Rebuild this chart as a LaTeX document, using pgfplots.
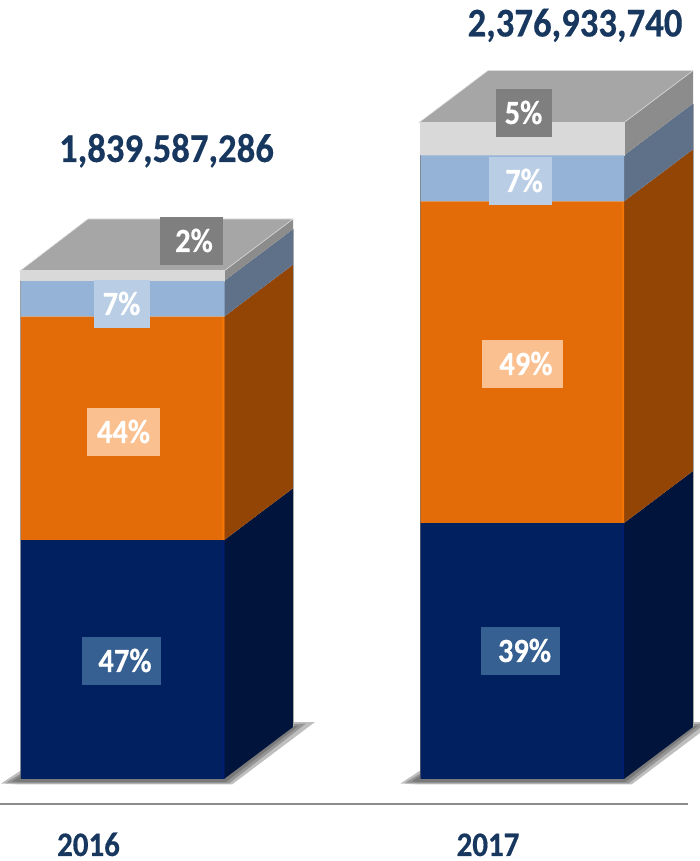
\documentclass[border=0pt]{standalone}
\usepackage{pgfplots}
\usepackage{pgfplotstable}
\usepackage{fontspec}
\pgfplotsset{compat=1.18}
\setmainfont{Carlito}[BoldFeatures={FakeStretch=0.9,FakeBold=0.35}]

\definecolor{navyF}{HTML}{002060}
\definecolor{navyS}{HTML}{00143C}
\definecolor{orangeF}{HTML}{E36C09}
\definecolor{orangeS}{HTML}{934505}
\definecolor{blueF}{HTML}{95B3D7}
\definecolor{blueS}{HTML}{5F7189}
\definecolor{greyF}{HTML}{D9D9D9}
\definecolor{greyS}{HTML}{8C8C8C}
\definecolor{greyT}{HTML}{A6A6A6}
\definecolor{navyL}{HTML}{376092}
\definecolor{orangeL}{HTML}{FBC08F}
\definecolor{blueL}{HTML}{B9CDE5}
\definecolor{greyL}{HTML}{7F7F7F}
\definecolor{titleC}{HTML}{17375E}

% Amounts per year, in millions, split by the printed shares
\pgfplotstableread{
x     navy   orange  blue  grey
122.5 864.6  809.4   128.8 36.8
522.0 927.0  1164.7  166.4 118.8
}\amounts

\pgfplotsset{
  sheet/.style={
    scale only axis, width=700bp, height=861bp,
    xmin=0, xmax=700, ymin=-296.95, ymax=2820.99,
    hide axis, at={(0,0)}, anchor=south west,
  },
  face/.style={draw=none, fill=#1, forget plot},
  haze/.style={draw=none, fill=black!70, fill opacity=0.36, forget plot},
}

% Position given as x and distance from the top of the sheet
\newcommand{\at}[2]{(axis cs:#1,{(779-#2)*3.6213})}
\newcommand{\tag}[9]{%
  \fill[#1] \at{#2}{#3} rectangle \at{#4}{#5};
  \node[anchor=base, text=white, font=\fontsize{34}{34}\selectfont\bfseries, inner sep=0pt] at \at{#6}{#7} {#8#9};
}

\begin{document}
\begin{tikzpicture}
\useasboundingbox (0,0) rectangle (700bp,861bp);

% Ground shadows, side faces and lids
\begin{axis}[sheet]
  \addplot[haze] coordinates {(1,-16.3)(20,29.0)(224,29.0)(293,206.4)(315,206.4)(232,-19.9)(20,-19.9)} -- cycle;
  \addplot[haze] coordinates {(6,-12.7)(20,18.1)(224,18.1)(293,199.2)(306,201.0)(229,-16.3)(20,-16.3)} -- cycle;
  \addplot[haze] coordinates {(12,-9.1)(20,10.9)(224,10.9)(293,191.9)(299,193.7)(226,-10.9)(20,-10.9)} -- cycle;
  \addplot[haze] coordinates {(400.5,-16.3)(419.5,29.0)(623.5,29.0)(692.5,206.4)(714.5,206.4)(631.5,-19.9)(419.5,-19.9)} -- cycle;
  \addplot[haze] coordinates {(405.5,-12.7)(419.5,18.1)(623.5,18.1)(692.5,199.2)(705.5,201.0)(628.5,-16.3)(419.5,-16.3)} -- cycle;
  \addplot[haze] coordinates {(411.5,-9.1)(419.5,10.9)(623.5,10.9)(692.5,191.9)(698.5,193.7)(625.5,-10.9)(419.5,-10.9)} -- cycle;

  \addplot[face=navyS]   coordinates {(224,0)(293,188.3)(293,1052.9)(224,864.6)} -- cycle;
  \addplot[face=orangeS] coordinates {(224,864.6)(293,1052.9)(293,1862.3)(224,1674.0)} -- cycle;
  \addplot[face=blueS]   coordinates {(224,1674.0)(293,1862.3)(293,1991.1)(224,1802.8)} -- cycle;
  \addplot[face=greyS]   coordinates {(224,1802.8)(293,1991.1)(293,2027.9)(224,1839.6)} -- cycle;
  \addplot[face=greyT, draw=greyF, line width=0.6bp] coordinates {(20,1839.6)(88,2027.9)(293,2027.9)(224,1839.6)} -- cycle;

  \addplot[face=navyS]   coordinates {(624,0)(693,188.3)(693,1115.3)(624,927.0)} -- cycle;
  \addplot[face=orangeS] coordinates {(624,927.0)(693,1115.3)(693,2280.0)(624,2091.7)} -- cycle;
  \addplot[face=blueS]   coordinates {(624,2091.7)(693,2280.0)(693,2446.4)(624,2258.1)} -- cycle;
  \addplot[face=greyS]   coordinates {(624,2258.1)(693,2446.4)(693,2565.2)(624,2376.9)} -- cycle;
  \addplot[face=greyT, draw=greyF, line width=0.6bp] coordinates {(419,2376.9)(488,2565.2)(693,2565.2)(624,2376.9)} -- cycle;
\end{axis}

% Front faces: the stacked amounts themselves
\begin{axis}[sheet, ybar stacked, bar width=204, bar shift=0pt]
  \addplot[draw=none, fill=navyF]   table[x=x, y=navy]   {\amounts};
  \addplot[draw=none, fill=orangeF] table[x=x, y=orange] {\amounts};
  \addplot[draw=none, fill=blueF]   table[x=x, y=blue]   {\amounts};
  \addplot[draw=greyF, fill=greyF, line width=1bp] table[x=x, y=grey] {\amounts};
\end{axis}

% Edge highlights, base rule and all text
\begin{axis}[sheet, clip=false]
  \addplot[orange!50!orangeF, line width=2bp, forget plot] coordinates {(223,866)(223,1672)};
  \addplot[orange!50!orangeF, line width=2bp, forget plot] coordinates {(623,929)(623,2090)};
  \addplot[navyF!90!blue, line width=2bp, forget plot] coordinates {(223,2)(223,863)};
  \addplot[navyF!90!blue, line width=2bp, forget plot] coordinates {(623,2)(623,925)};
  \addplot[black!55, line width=0.7bp, opacity=0.6, forget plot] coordinates {(20.5,0)(20.5,1802)};
  \addplot[black!55, line width=0.7bp, opacity=0.6, forget plot] coordinates {(420,0)(420,2258)};
  \addplot[black!35, line width=0.7bp, forget plot] coordinates {(293,188)(293,1990)};
  \addplot[black!35, line width=0.7bp, forget plot] coordinates {(693,188)(693,2445)};

  \addplot[color=black!45, line width=1.6bp, forget plot] coordinates {(0,-90.5)(688,-90.5)};

  \tag{navyL}{82}{637}{161}{685}{125}{672}{47}{\%}
  \tag{orangeL}{86.5}{408}{160}{456}{123.5}{443}{44}{\%}
  \tag{blueL}{94}{280}{150}{328}{121.5}{315}{7}{\%}
  \tag{greyL}{160}{217}{223}{265}{194}{252}{2}{\%}
  \tag{navyL}{481}{627}{560}{675}{524.5}{662}{39}{\%}
  \tag{orangeL}{482}{340}{563}{388}{526}{375}{49}{\%}
  \tag{blueL}{489}{157}{552}{205}{524}{192}{7}{\%}
  \tag{greyL}{496}{89}{552}{137}{523.5}{124}{5}{\%}

  \node[anchor=base, text=titleC, font=\fontsize{41}{41}\selectfont\bfseries, inner sep=0pt] at \at{166.5}{162} {1,839,587,286};
  \node[anchor=base, text=titleC, font=\fontsize{41}{41}\selectfont\bfseries, inner sep=0pt] at \at{575}{36.5} {2,376,933,740};
  \node[anchor=base, text=titleC, font=\fontsize{34.5}{34.5}\selectfont\bfseries, inner sep=0pt] at \at{88.5}{856} {2016};
  \node[anchor=base, text=titleC, font=\fontsize{34.5}{34.5}\selectfont\bfseries, inner sep=0pt] at \at{488}{856} {2017};
\end{axis}
\end{tikzpicture}
\end{document}
